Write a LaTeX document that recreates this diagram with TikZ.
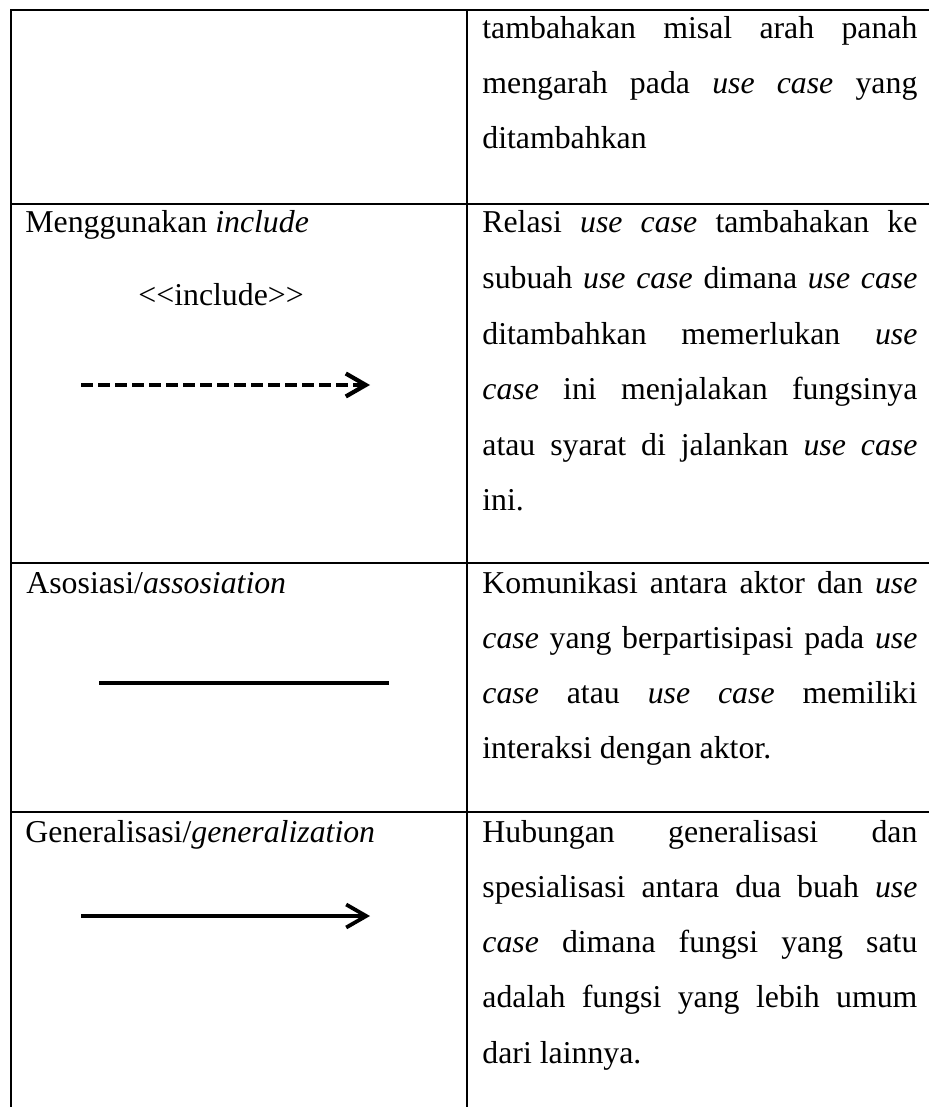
\documentclass[tikz,border=0pt]{standalone}
\usepackage{fontspec}
\setmainfont{Liberation Serif}
\usetikzlibrary{arrows.meta}
\newcommand{\jline}[1]{\makebox[217.5pt][s]{#1}}
\begin{document}
\begin{tikzpicture}[x=0.5pt,y=-0.5pt,
  rule/.style={line width=1.1pt},
  txt/.style={anchor=base west, inner sep=0pt, font=\fontsize{15.9}{18}\selectfont},
  barbhead/.style={-{Straight Barb[length=10pt,width=11.5pt]}},
  ]
\useasboundingbox (0,0) rectangle (929,1107);
% table rules
\draw[rule] (929,10) -- (11,10) -- (11,1107);
\draw[rule] (467,10) -- (467,1107);
\draw[rule] (11,204) -- (929,204);
\draw[rule] (11,563) -- (929,563);
\draw[rule] (11,812) -- (929,812);

% row 1 (continued)
\node[txt] (r1a) at (482,39) {\jline{tambahakan misal arah panah}};
\node[txt] (r1b) at (482,94) {\jline{mengarah pada \textit{use} \textit{case} yang}};
\node[txt] (r1c) at (482,149) {ditambahkan};

% row 2
\node[txt] (l2) at (25,233) {Menggunakan \textit{include}};
\node[txt] (inclab) at (138,305) {<{}<include>{}>};
\coordinate (incs) at (81,385);
\coordinate (ince) at (370,385);
\draw[line width=2.1pt, dash pattern=on 6pt off 2.5pt, barbhead] (incs) -- (ince);
\node[txt] (r2a) at (482,233) {\jline{Relasi \textit{use} \textit{case} tambahakan ke}};
\node[txt] (r2b) at (482,288.5) {\jline{subuah \textit{use case} dimana \textit{use case}}};
\node[txt] (r2c) at (482,344) {\jline{ditambahkan memerlukan \textit{use}}};
\node[txt] (r2d) at (482,399.5) {\jline{\textit{case} ini menjalakan fungsinya}};
\node[txt] (r2e) at (482,455) {\jline{atau syarat di jalankan \textit{use} \textit{case}}};
\node[txt] (r2f) at (482,510) {ini.};

% row 3
\node[txt] (l3) at (26,593) {Asosiasi/\textit{assosiation}};
\coordinate (ass) at (99,683);
\coordinate (ase) at (389,683);
\draw[line width=2.3pt] (ass) -- (ase);
\node[txt] (r3a) at (482,593) {\jline{Komunikasi antara aktor dan \textit{use}}};
\node[txt] (r3b) at (482,648) {\jline{\textit{case} yang berpartisipasi pada \textit{use}}};
\node[txt] (r3c) at (482,703) {\jline{\textit{case} atau \textit{use} \textit{case} memiliki}};
\node[txt] (r3d) at (482,758) {interaksi dengan aktor.};

% row 4
\node[txt] (l4) at (25,842) {Generalisasi/\textit{generalization}};
\coordinate (ges) at (81,916);
\coordinate (gee) at (370,916);
\draw[line width=1.9pt, barbhead] (ges) -- (gee);
\node[txt] (r4a) at (482,842) {\jline{Hubungan generalisasi dan}};
\node[txt] (r4b) at (482,897) {\jline{spesialisasi antara dua buah \textit{use}}};
\node[txt] (r4c) at (482,952) {\jline{\textit{case} dimana fungsi yang satu}};
\node[txt] (r4d) at (482,1007) {\jline{adalah fungsi yang lebih umum}};
\node[txt] (r4e) at (482,1063) {dari lainnya.};
\end{tikzpicture}
\end{document}
